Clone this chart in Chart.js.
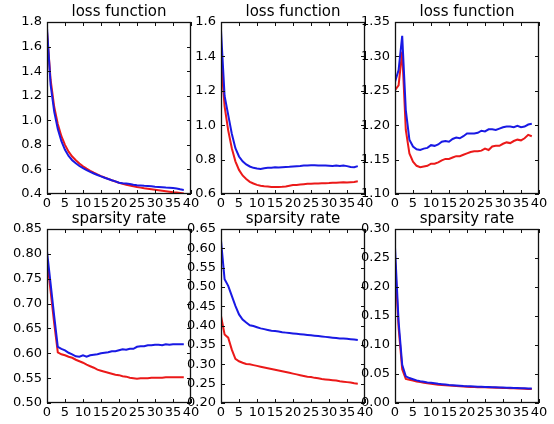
<!DOCTYPE html>
<html>
<head>
<meta charset="utf-8">
<script src="https://cdn.jsdelivr.net/npm/chart.js@4"></script>
<style>
  body { margin: 0; background: #fff; }
  #wrap { position: relative; width: 554px; height: 424px; overflow: hidden; }
  #wrap canvas { position: absolute; }
</style>
</head>
<body>
<div id="wrap"></div>
<script>
// epochs (x values)
const epochs = [0,1,2,3,4,5,6,7,8,9,10,11,12,13,14,15,16,17,18,19,20,21,22,23,24,25,26,27,28,29,30,31,32,33,34,35,36,37,38];
const xTicks = [0,5,10,15,20,25,30,35,40];

// loss function, panel 1
const loss1Red  = [1.72,1.33,1.11,0.97,0.87,0.80,0.745,0.705,0.675,0.648,0.625,0.606,0.589,0.573,0.559,0.546,0.534,0.523,0.512,0.502,0.492,0.484,0.476,0.469,0.463,0.457,0.452,0.447,0.443,0.439,0.435,0.431,0.427,0.423,0.419,0.415,0.412,0.409,0.405];
const loss1Blue = [1.75,1.29,1.07,0.93,0.83,0.76,0.71,0.675,0.65,0.628,0.61,0.595,0.58,0.567,0.555,0.543,0.532,0.522,0.512,0.503,0.492,0.488,0.486,0.481,0.476,0.472,0.47,0.467,0.466,0.463,0.459,0.457,0.455,0.452,0.45,0.448,0.445,0.438,0.433];

// loss function, panel 2
const loss2Red  = [1.38,1.11,0.97,0.866,0.79,0.74,0.708,0.687,0.671,0.661,0.653,0.648,0.645,0.643,0.641,0.64,0.641,0.642,0.644,0.648,0.652,0.653,0.655,0.657,0.659,0.66,0.661,0.661,0.662,0.663,0.664,0.666,0.665,0.667,0.668,0.667,0.669,0.67,0.674];
const loss2Blue = [1.55,1.17,1.06,0.95,0.866,0.818,0.79,0.772,0.76,0.752,0.748,0.746,0.75,0.752,0.753,0.755,0.754,0.756,0.757,0.758,0.76,0.762,0.763,0.765,0.766,0.767,0.767,0.766,0.766,0.765,0.764,0.763,0.765,0.763,0.766,0.762,0.757,0.756,0.762];

// loss function, panel 3
const loss3Red  = [1.251,1.258,1.307,1.193,1.159,1.147,1.141,1.139,1.14,1.141,1.144,1.144,1.146,1.149,1.151,1.151,1.153,1.155,1.155,1.157,1.159,1.161,1.162,1.162,1.163,1.166,1.164,1.169,1.17,1.17,1.173,1.175,1.174,1.177,1.179,1.178,1.181,1.186,1.184];
const loss3Blue = [1.263,1.28,1.33,1.222,1.179,1.169,1.165,1.164,1.166,1.167,1.171,1.17,1.172,1.176,1.177,1.176,1.18,1.182,1.181,1.184,1.188,1.188,1.188,1.189,1.192,1.191,1.194,1.194,1.193,1.195,1.197,1.198,1.198,1.197,1.199,1.197,1.198,1.201,1.202];

// sparsity rate, panel 4
const sparse1Red  = [0.79,0.725,0.66,0.602,0.598,0.596,0.593,0.591,0.587,0.584,0.581,0.577,0.574,0.571,0.567,0.565,0.563,0.561,0.559,0.557,0.556,0.554,0.553,0.551,0.55,0.549,0.55,0.55,0.55,0.551,0.551,0.551,0.551,0.552,0.552,0.552,0.552,0.552,0.552];
const sparse1Blue = [0.805,0.74,0.675,0.613,0.609,0.606,0.601,0.598,0.594,0.593,0.596,0.593,0.596,0.597,0.598,0.60,0.601,0.602,0.604,0.604,0.606,0.608,0.607,0.609,0.609,0.613,0.614,0.614,0.616,0.616,0.617,0.617,0.616,0.618,0.617,0.618,0.618,0.618,0.618];

// sparsity rate, panel 5
const sparse2Red  = [0.425,0.377,0.369,0.338,0.314,0.308,0.304,0.301,0.30,0.298,0.296,0.294,0.292,0.29,0.288,0.286,0.284,0.282,0.28,0.278,0.276,0.274,0.272,0.27,0.268,0.267,0.265,0.264,0.262,0.261,0.26,0.259,0.258,0.256,0.255,0.254,0.253,0.251,0.25];
const sparse2Blue = [0.62,0.52,0.503,0.477,0.451,0.429,0.416,0.408,0.401,0.399,0.396,0.393,0.391,0.389,0.387,0.386,0.385,0.383,0.382,0.381,0.38,0.379,0.378,0.377,0.376,0.375,0.374,0.373,0.372,0.371,0.37,0.369,0.368,0.367,0.367,0.366,0.365,0.364,0.363];

// sparsity rate, panel 6
const sparse3Red  = [0.245,0.13,0.058,0.0415,0.04,0.0387,0.037,0.036,0.035,0.034,0.033,0.0323,0.0316,0.031,0.0305,0.03,0.0296,0.0292,0.0288,0.0284,0.028,0.0278,0.0276,0.0273,0.0271,0.027,0.0268,0.0266,0.0264,0.0262,0.026,0.0258,0.0256,0.0254,0.0252,0.025,0.0246,0.0243,0.024];
const sparse3Blue = [0.268,0.14,0.066,0.046,0.043,0.041,0.039,0.0375,0.0365,0.0355,0.035,0.034,0.033,0.0325,0.0318,0.031,0.0305,0.03,0.0296,0.0292,0.029,0.0287,0.0284,0.0281,0.0279,0.0277,0.0275,0.0273,0.0271,0.0268,0.0266,0.0264,0.0262,0.026,0.0258,0.0255,0.0253,0.0251,0.025];

const RED = 'rgb(235,25,25)';
const BLUE = 'rgb(25,25,228)';
const FONT = "'DejaVu Sans', sans-serif";

// plot boxes (chart area) in page pixels
const panels = [
  { title: 'loss function', red: loss1Red, blue: loss1Blue, min: 0.4,  max: 1.8,  step: 0.2,  dec: 1, left: 47,  top: 22,  h: 172 },
  { title: 'loss function', red: loss2Red, blue: loss2Blue, min: 0.6,  max: 1.6,  step: 0.2,  dec: 1, left: 221, top: 22,  h: 172 },
  { title: 'loss function', red: loss3Red, blue: loss3Blue, min: 1.10, max: 1.35, step: 0.05, dec: 2, left: 395, top: 22,  h: 172 },
  { title: 'sparsity rate', red: sparse1Red, blue: sparse1Blue, min: 0.50, max: 0.85, step: 0.05, dec: 2, left: 47,  top: 229, h: 174 },
  { title: 'sparsity rate', red: sparse2Red, blue: sparse2Blue, min: 0.20, max: 0.65, step: 0.05, dec: 2, left: 221, top: 229, h: 174 },
  { title: 'sparsity rate', red: sparse3Red, blue: sparse3Blue, min: 0.00, max: 0.30, step: 0.05, dec: 2, left: 395, top: 229, h: 174 }
];
const PLOT_W = 144;
const Y_AXIS_W = 46, X_AXIS_H = 22, TITLE_H = 24, RIGHT_PAD = 14;

// matplotlib-style box with inward ticks on all four sides
const frameTicks = {
  id: 'frameTicks',
  afterDraw(chart) {
    const { ctx, chartArea: a, scales: { x, y } } = chart;
    const len = 4;
    ctx.save();
    ctx.strokeStyle = '#111';
    ctx.lineWidth = 1;
    ctx.beginPath();
    x.ticks.forEach(t => {
      const px = Math.round(x.getPixelForValue(t.value)) + 0.5;
      ctx.moveTo(px, a.bottom); ctx.lineTo(px, a.bottom - len);
      ctx.moveTo(px, a.top); ctx.lineTo(px, a.top + len);
    });
    y.ticks.forEach(t => {
      const py = Math.round(y.getPixelForValue(t.value)) + 0.5;
      ctx.moveTo(a.left, py); ctx.lineTo(a.left + len, py);
      ctx.moveTo(a.right, py); ctx.lineTo(a.right - len, py);
    });
    ctx.stroke();
    ctx.lineWidth = 1.3;
    ctx.strokeRect(a.left + 0.5, a.top + 0.5, a.width - 1, a.height - 1);
    ctx.restore();
  }
};

const wrap = document.getElementById('wrap');

panels.forEach(p => {
  const canvas = document.createElement('canvas');
  canvas.width = Y_AXIS_W + PLOT_W + RIGHT_PAD;
  canvas.height = TITLE_H + p.h + X_AXIS_H;
  canvas.style.left = (p.left - Y_AXIS_W) + 'px';
  canvas.style.top = (p.top - TITLE_H) + 'px';
  wrap.appendChild(canvas);

  const pts = arr => arr.map((v, i) => ({ x: epochs[i], y: v }));

  new Chart(canvas.getContext('2d'), {
    type: 'line',
    data: {
      datasets: [
        { label: 'blue', data: pts(p.blue), borderColor: BLUE, borderWidth: 2, order: 0 },
        { label: 'red', data: pts(p.red), borderColor: RED, borderWidth: 2, order: 1 }
      ]
    },
    options: {
      responsive: false,
      animation: false,
      events: [],
      layout: { padding: { left: 0, right: RIGHT_PAD, top: 0, bottom: 0 } },
      elements: { point: { radius: 0 }, line: { tension: 0, fill: false } },
      plugins: {
        legend: { display: false },
        tooltip: { enabled: false },
        title: {
          display: true,
          text: p.title,
          fullSize: false,
          color: '#000',
          font: { family: FONT, size: 15, weight: 'normal' },
          padding: { top: 5, bottom: 1 }
        }
      },
      scales: {
        x: {
          type: 'linear',
          min: 0,
          max: 40,
          afterBuildTicks: scale => { scale.ticks = xTicks.map(v => ({ value: v })); },
          afterFit: scale => { scale.height = X_AXIS_H; },
          grid: { display: false, drawTicks: false },
          border: { display: false },
          ticks: {
            autoSkip: false,
            maxRotation: 0,
            padding: 2,
            color: '#000',
            font: { family: FONT, size: 13 }
          }
        },
        y: {
          min: p.min,
          max: p.max,
          afterFit: scale => { scale.width = Y_AXIS_W; },
          grid: { display: false, drawTicks: false },
          border: { display: false },
          ticks: {
            stepSize: p.step,
            padding: 5,
            color: '#000',
            font: { family: FONT, size: 13 },
            callback: v => Number(v).toFixed(p.dec)
          }
        }
      }
    },
    plugins: [frameTicks]
  });
});
</script>
</body>
</html>
